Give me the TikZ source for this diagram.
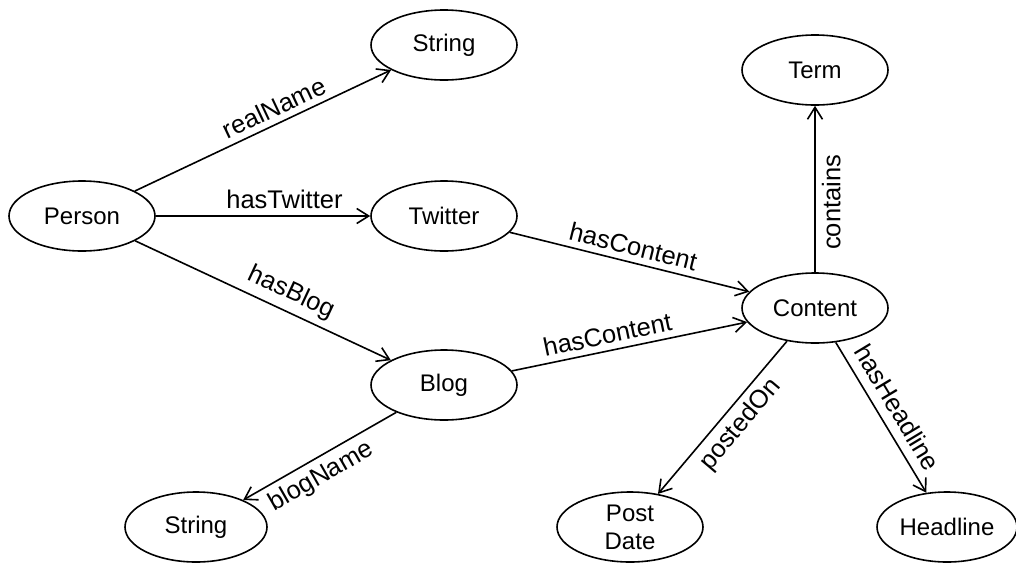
\documentclass[tikz,border=0pt]{standalone}
\usepackage{fontspec}
\setmainfont{Liberation Sans}
\usetikzlibrary{shapes.geometric,arrows.meta}
\begin{document}
\begin{tikzpicture}[x=1pt,y=-1pt,
  ent/.style={ellipse,draw,line width=1.6pt,minimum width=146pt,minimum height=70pt,inner sep=0pt,font=\fontsize{24}{28}\selectfont,align=center},
  rel/.style={line width=1.6pt,-{Straight Barb[length=12pt,width=15pt]}},
  lbl/.style={font=\fontsize{25.5}{29}\selectfont,sloped,inner sep=6pt}]
\useasboundingbox (0,0) rectangle (1016,563);
\node[ent] (person) at (82,216) {Person};
\node[ent] (str1) at (444,45) {String};
\node[ent] (twitter) at (444,216) {Twitter};
\node[ent] (term) at (815,70) {Term};
\node[ent] (content) at (815,308) {Content};
\node[ent] (blog) at (444,385) {Blog};
\node[ent,minimum width=142pt] (str2) at (196,527) {String};
\node[ent] (date) at (630,527) {Post\\Date};
\node[ent,minimum width=140pt] (headline) at (947,527) {Headline};

\draw[rel] (person) -- node[lbl,above,pos=0.57]{realName} (str1);
\draw[rel] (person) -- node[lbl,above,pos=0.6]{hasTwitter} (twitter);
\draw[rel] (person) -- node[lbl,above,pos=0.58]{hasBlog} (blog);
\draw[rel] (twitter) -- node[lbl,above,pos=0.5]{hasContent} (content);
\draw[rel] (blog) -- node[lbl,above,pos=0.42]{hasContent} (content);
\draw[rel] (content) -- node[lbl,below,pos=0.42]{contains} (term);
\draw[rel] (content) -- node[lbl,below,pos=0.47]{postedOn} (date);
\draw[rel] (content) -- node[lbl,above=3pt,pos=0.5]{hasHeadline} (headline);
\draw[rel] (blog) -- node[lbl,below,pos=0.55]{blogName} (str2);
\end{tikzpicture}
\end{document}
